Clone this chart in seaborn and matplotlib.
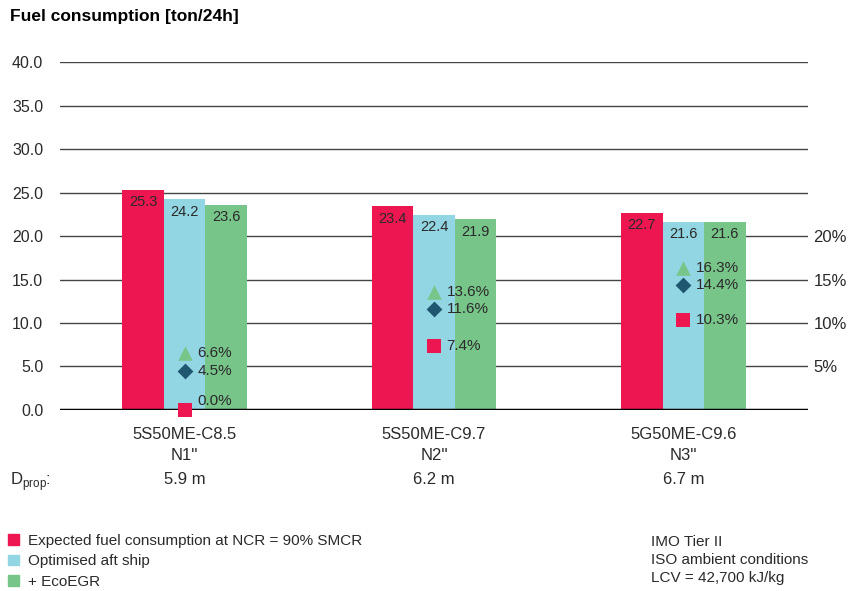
import pandas as pd
import numpy as np
import seaborn as sns
import matplotlib.pyplot as plt
from matplotlib.patches import Patch

engines = ['5S50ME-C8.5', '5S50ME-C9.7', '5G50ME-C9.6']
ratings = ["N1''", "N2''", "N3''"]
dprop = ['5.9 m', '6.2 m', '6.7 m']
series = ['Expected fuel consumption at NCR = 90% SMCR', 'Optimised aft ship', '+ EcoEGR']
expected = [25.3, 23.4, 22.7]
optimised = [24.2, 22.4, 21.6]
ecoegr = [23.6, 21.9, 21.6]
pct_square = [0.0, 7.4, 10.3]
pct_diamond = [4.5, 11.6, 14.4]
pct_triangle = [6.6, 13.6, 16.3]
notes = ['IMO Tier II', 'ISO ambient conditions', 'LCV = 42,700 kJ/kg']

red = '#ED1651'
blue = '#93D6E3'
green = '#78C58A'
navy = '#1F5670'
txt = '#2a2a2a'

sns.set_theme(style='white')
plt.rcParams['font.family'] = ['Liberation Sans', 'DejaVu Sans']

rows = []
for i, eng in enumerate(engines):
    for s, vals in zip(series, [expected, optimised, ecoegr]):
        rows.append({'Engine': eng, 'Series': s, 'Value': vals[i]})
df = pd.DataFrame(rows)

fig = plt.figure(figsize=(8.62, 5.91), dpi=100)
ax = fig.add_axes([0.0696, 0.3063, 0.8678, 0.5887])

for y in np.arange(5, 45, 5):
    ax.axhline(y, color='#444444', lw=1.0, zorder=0)

sns.barplot(data=df, x='Engine', y='Value', hue='Series', order=engines,
            hue_order=series, palette=[red, blue, green], width=0.5, gap=0,
            saturation=1, linewidth=0, ax=ax, zorder=2)

for cont in ax.containers:
    for bar in cont:
        h = bar.get_height()
        ax.text(bar.get_x() + bar.get_width() / 2, h - 0.6, f'{h:.1f}',
                ha='center', va='top', fontsize=10.5, color=txt, zorder=5)

xs = np.arange(len(engines))
ax.scatter(xs, pct_triangle, marker='^', s=110, color=green, zorder=4, lw=0)
ax.scatter(xs, pct_diamond, marker='D', s=65, color=navy, zorder=4, lw=0)
ax.scatter(xs, pct_square, marker='s', s=95, color=red, zorder=4, lw=0, clip_on=False)
for vals in [pct_triangle, pct_diamond, pct_square]:
    for x, v in zip(xs, vals):
        ax.text(x + 0.05, v + 1.0 if v == 0 else v, f'{v:.1f}%', ha='left', va='center',
                fontsize=11, color=txt, zorder=5)

ax.axhline(0, color='black', lw=2.5, zorder=3)
ax.set_xlim(-0.5, 2.5)
ax.set_ylim(0, 40)
ax.set_yticks(np.arange(0, 45, 5))
ax.set_yticklabels([f'{v:.1f}' for v in np.arange(0, 45, 5)], fontsize=11.5, color=txt)
ax.set_xticks(xs)
ax.set_xticklabels([f'{e}\n{r}' for e, r in zip(engines, ratings)], fontsize=12,
                   color=txt, linespacing=1.55)
ax.tick_params(axis='y', length=0, pad=12)
ax.tick_params(axis='x', length=0, pad=12)
ax.set_xlabel('')
ax.set_ylabel('')
for sp in ax.spines.values():
    sp.set_visible(False)
ax.legend_.remove()

ax2 = ax.twinx()
ax2.set_ylim(0, 40)
ax2.set_yticks([5, 10, 15, 20])
ax2.set_yticklabels(['5%', '10%', '15%', '20%'], fontsize=12, color=txt)
ax2.tick_params(axis='y', length=0, pad=4)
for sp in ax2.spines.values():
    sp.set_visible(False)
ax2.grid(False)

for x, d in zip(xs, dprop):
    ax.text(x, -8.0, d, ha='center', va='center', fontsize=12, color=txt)
fig.text(10 / 862, 1 - 482 / 591, r'D$_{\mathregular{prop}}$:', ha='left', va='center',
         fontsize=12, color=txt)

fig.text(10 / 862, 1 - 17 / 591, 'Fuel consumption [ton/24h]', fontsize=12.5,
         fontweight='bold', color='black', va='center')

handles = [Patch(color=c) for c in [red, blue, green]]
fig.legend(handles, series, loc='upper left', bbox_to_anchor=(8 / 862, 1 - 534 / 591),
           frameon=False, fontsize=11, handlelength=0.7, handleheight=0.7,
           handletextpad=0.6, labelspacing=0.42, borderpad=0, borderaxespad=0,
           labelcolor=txt)

fig.text(651 / 862, 1 - 560 / 591, '\n'.join(notes), ha='left', va='center',
         fontsize=11, color=txt, linespacing=1.35)

fig.savefig('out.png', dpi=100)
